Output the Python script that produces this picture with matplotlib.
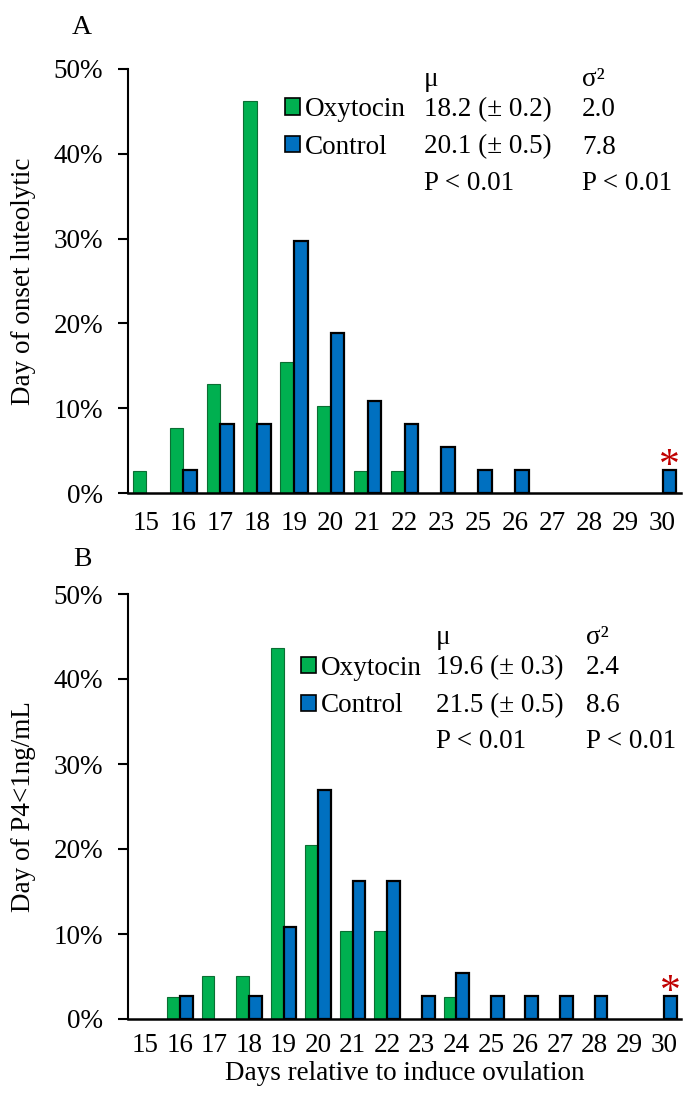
import numpy as np
import matplotlib
matplotlib.use("Agg")
import matplotlib.pyplot as plt
from matplotlib.patches import Patch

plt.rcParams['font.family'] = ['Liberation Serif', 'DejaVu Serif']

# panel A - day of onset luteolysis (% of animals)
days_a = ['15', '16', '17', '18', '19', '20', '21', '22', '23', '25', '26', '27', '28', '29', '30']
oxy_a = [2.6, 7.7, 12.8, 46.2, 15.4, 10.3, 2.6, 2.6, 0, 0, 0, 0, 0, 0, 0]
ctl_a = [0, 2.7, 8.1, 8.1, 29.7, 18.9, 10.8, 8.1, 5.4, 2.7, 2.7, 0, 0, 0, 2.7]
stats_a = [['18.2 (\u00b1 0.2)', '2.0'], ['20.1 (\u00b1 0.5)', '7.8'], ['P < 0.01', 'P < 0.01']]

# panel B - day of P4 < 1 ng/mL
days_b = ['15', '16', '17', '18', '19', '20', '21', '22', '23', '24', '25', '26', '27', '28', '29', '30']
oxy_b = [0, 2.6, 5.1, 5.1, 43.6, 20.5, 10.3, 10.3, 0, 2.6, 0, 0, 0, 0, 0, 0]
ctl_b = [0, 2.7, 0, 2.7, 10.8, 27.0, 16.2, 16.2, 2.7, 5.4, 2.7, 2.7, 2.7, 2.7, 0, 2.7]
stats_b = [['19.6 (\u00b1 0.3)', '2.4'], ['21.5 (\u00b1 0.5)', '8.6'], ['P < 0.01', 'P < 0.01']]

green = '#00B050'
blue = '#0070C0'
fs = 19.5
W, H = 683, 1102

fig = plt.figure(figsize=(W / 100, H / 100), dpi=100)


def panel(rect, days, oxy, ctl, ylabel, letter, letter_y, stats, leg_x, val_x, sig_x, rows_y, mu_y, xpad):
    ax = fig.add_axes(rect)
    x = np.arange(len(days))
    oxy = np.array(oxy)
    ctl = np.array(ctl)
    w = 0.37
    m1 = oxy > 0
    m2 = ctl > 0
    ax.bar(x[m1] - w / 2, oxy[m1], w, color=green, edgecolor='#0b6e33', linewidth=0.8)
    ax.bar(x[m2] + w / 2, ctl[m2], w, color=blue, edgecolor='black', linewidth=1.6)
    ax.set_xlim(-0.5, len(days) - 0.5)
    ax.set_ylim(0, 50)
    ax.set_yticks(range(0, 51, 10))
    ax.set_yticklabels([f'{v}%' for v in range(0, 51, 10)], fontsize=fs)
    ax.set_xticks(x)
    ax.set_xticklabels(days, fontsize=fs)
    ax.tick_params(axis='x', length=0, pad=xpad)
    ax.tick_params(axis='y', length=7, width=1.5, pad=11, direction='out')
    for s in ['top', 'right']:
        ax.spines[s].set_visible(False)
    ax.spines['left'].set_linewidth(1.5)
    ax.spines['bottom'].set_linewidth(1.8)
    # red asterisk above the last control bar
    ax.text(x[-1] + w / 2, ctl[-1] - 0.8, '*', color='#C00000', fontsize=30,
            ha='center', va='baseline')

    top = rect[1] + rect[3]
    fig.text(24 / W, top - rect[3] / 2, ylabel, rotation=90,
             ha='center', va='center', fontsize=fs)
    fig.text(82 / W, 1 - letter_y / H, letter, ha='center', va='center', fontsize=20)

    # stats table
    fig.text(val_x / W, 1 - mu_y / H, '\u03bc', ha='left', va='center', fontsize=fs)
    fig.text(sig_x / W, 1 - mu_y / H, '\u03c3\u00b2', ha='left', va='center', fontsize=fs)
    for (mv, vv), ry in zip(stats, rows_y):
        fig.text(val_x / W, 1 - ry / H, mv, ha='left', va='center', fontsize=fs)
        fig.text(sig_x / W, 1 - ry / H, vv, ha='left', va='center', fontsize=fs)

    handles = [Patch(facecolor=green, edgecolor='black', linewidth=1.2, label='Oxytocin'),
               Patch(facecolor=blue, edgecolor='black', linewidth=1.2, label='Control')]
    ax.legend(handles=handles, loc='center left', frameon=False, fontsize=fs,
              bbox_to_anchor=(leg_x / W, 1 - (rows_y[0] + rows_y[1]) / 2 / H),
              bbox_transform=fig.transFigure, handlelength=0.55, handleheight=0.55,
              handletextpad=0.2, labelspacing=0.47, borderpad=0, borderaxespad=0)
    return ax


ax_a = panel([128 / W, 1 - 493 / H, 553 / W, 424 / H], days_a, oxy_a, ctl_a,
             'Day of onset luteolytic', 'A', 28, stats_a,
             285, 424, 582, [110, 147, 183], 80, 13)
ax_b = panel([128 / W, 1 - 1019 / H, 553 / W, 425 / H], days_b, oxy_b, ctl_b,
             'Day of P4<1ng/mL', 'B', 559, stats_b,
             301, 436, 586, [668, 706, 742], 638, 10)
ax_b.set_xlabel('Days relative to induce ovulation', fontsize=fs, labelpad=2)

fig.savefig('out.png', dpi=100)
